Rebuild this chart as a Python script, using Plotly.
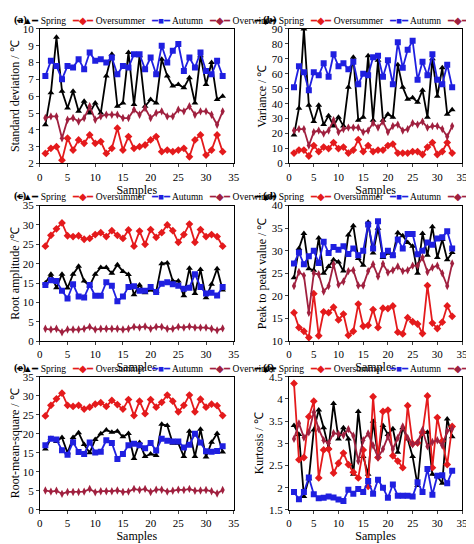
import plotly.graph_objects as go
from plotly.subplots import make_subplots

samples = list(range(1, 34))
series_names = ["Spring", "Oversummer", "Autumn", "Overwinter"]

a_spring = [4.3,6.2,9.5,6.3,5.3,6.3,5.1,5.7,5.0,5.6,5.0,7.2,8.5,5.4,5.6,8.6,5.5,8.4,5.4,5.8,5.6,8.2,7.2,6.6,6.7,6.5,7.1,5.6,8.4,6.7,8.0,5.8,6.0]
a_summer = [2.6,2.9,3.0,2.2,3.5,2.8,3.4,3.2,3.7,3.2,3.3,2.6,2.9,4.1,2.8,3.6,2.9,3.0,3.1,3.4,3.6,2.7,2.8,2.7,2.8,2.9,2.4,3.4,3.7,2.5,2.8,3.7,2.7]
a_autumn = [7.2,8.1,7.8,7.0,7.8,7.7,8.2,7.6,8.6,8.1,8.2,8.0,8.3,7.3,7.8,7.7,8.5,8.5,7.6,8.3,7.3,9.0,8.0,8.7,9.1,7.5,8.3,7.7,8.6,7.5,7.3,8.1,7.2]
a_winter = [4.7,4.8,4.8,3.5,4.6,4.7,4.5,4.7,5.4,4.6,4.8,4.9,4.9,4.9,4.7,4.7,5.2,4.9,5.3,4.7,5.0,5.1,4.8,4.8,5.2,5.1,5.4,4.9,5.1,5.1,4.9,4.3,5.1]

b_spring = [19,37,90,39,28,39,26,32,25,31,25,51,71,29,31,72,29,69,29,33,31,66,51,43,44,41,49,31,70,45,64,33,36]
b_summer = [7,9,9,5,12,8,11,10,14,10,11,7,9,16,8,12,8,9,9,12,13,7,7,7,8,8,6,11,14,6,8,14,7]
b_autumn = [51,65,61,49,61,59,67,58,73,65,67,63,68,53,60,59,71,72,58,69,53,81,64,76,82,56,68,59,73,56,53,66,51]
b_winter = [22,23,23,12,21,22,20,22,29,21,23,24,24,24,21,22,27,24,28,21,25,26,22,23,27,26,28,24,25,25,23,18,25]

c_spring = [15,17.3,13.8,17.3,13.7,17.3,19.3,15.5,14.3,17.3,19,19,17.5,19.7,18,17.2,12,14.5,12.5,13.2,12.8,20,20.2,15.5,15.5,11.7,18.8,12.3,18.5,11.2,14.7,18.7,13.2]
c_summer = [24.5,27.3,29,30.5,27.2,27,27.2,26.3,26.5,27.5,28,27,28.5,27.3,26.5,28.7,24.5,28.4,25,28.8,26.8,28,30,28.5,25.5,27.5,30.2,25.5,28.8,27,27.5,27,24.5]
c_autumn = [14.5,15.7,15.5,13,11,14.7,11.5,11.3,14.5,11.7,11.7,15.2,14.3,10.3,11.5,14,14.2,13,13,14,12.7,14.8,15.2,14.7,14.3,13.5,13.8,17.3,14,12.3,12.5,11.8,14]
c_winter = [3.2,3,3.2,2.3,3,3,3,3.2,3.7,3,3.2,3.2,3.2,3.2,3,3.2,3.7,3.5,3.8,3.2,3.7,3.7,3.2,3.2,3.7,3.5,3.8,3.5,3.5,3.5,3.2,2.8,3.3]

d_spring = [24,30.5,33.8,26,25.7,32.8,25,26.5,28,27.5,25.5,33.5,35.5,28.3,26.8,36.3,29.5,35,28.5,29.5,29,34,33.3,31.8,31,25,33.8,29,35.3,28.5,32.5,28,29.6]
d_summer = [16.3,13,12.2,10.8,20.5,11.2,16.5,16.3,17.5,14.7,16,11.3,12.2,18.2,13.3,13.5,17,13,17.3,17.2,17.8,12,11.6,15.2,14.3,13.8,11.7,22.3,14,12.8,14.2,17.8,15.5]
d_autumn = [27.2,29.6,27,28.8,30,27.3,32,29.5,30.8,30.2,31,29.3,30.5,29,30,35.8,30.5,36.5,29,30,29,32.5,30.5,33.7,33.7,29.2,30,31.8,31.3,32.7,33,34.3,30.5]
d_winter = [22.2,25.3,24.5,16.3,25,24.8,21,22.2,27,22.5,23.2,25.5,25.7,22.3,22.3,25.5,27,24.3,27.1,25.2,25.7,26.5,25.5,25.7,26.7,26.7,28.5,25.3,26.3,26.7,25,22.2,27.2]

e_spring = [16,18.8,18,19,15,19,20.3,17.2,15,18.5,20,21,20.4,20.7,19.2,20.1,13.5,17.7,14,14.7,14.3,22.5,22.2,17.5,17.5,14,20.7,14,21.2,13.9,17.8,20.1,15.2]
e_summer = [24.7,27.5,29.2,30.7,27.5,27.2,27.5,26.5,27,27.8,28.2,27.2,28.8,27.7,26.5,29,24.8,28.6,25.3,29,27,28.3,30.2,28.6,25.8,27.5,30.2,25.8,29.1,27,27.8,27.4,24.8]
e_autumn = [17,18.7,18.5,15.7,14.5,17.8,15.2,14.7,17.7,15.1,15.3,18.3,17.6,13.4,14.7,17,17.4,17,16.2,17.6,15.6,18.7,18.2,18,18,16.4,17.1,20,17.7,15.4,15.3,15.5,16.7]
e_winter = [5.1,4.8,5,4.2,4.7,4.7,4.7,4.8,5.5,4.6,4.9,4.9,4.9,5.1,4.7,4.8,5.5,5.2,5.5,4.7,5.3,5.3,4.8,5,5.3,5.2,5.5,5,5.1,5.2,4.9,4.3,5.2]

f_spring = [3.4,3.2,1.8,2.2,3.3,3.75,3.35,2.9,3.9,3.1,3.35,3.1,2.3,3.72,2.7,2.3,3.5,2.7,3.4,3.2,3.33,2.8,3.35,3.1,2.7,2.05,3.25,3.25,2.3,2.25,2.1,3.55,3.15]
f_summer = [4.35,2.63,2.68,3.6,3.95,2.22,2.85,2.87,2.33,2.55,2.78,2.52,2.35,2.22,2.85,2.03,4.05,2.68,3.72,3.75,2.72,2.6,2.45,3.85,2.99,3.01,3.25,4.07,2.45,3.58,3.05,2.52,3.38]
f_autumn = [1.9,1.74,1.9,2.23,1.85,1.76,1.77,1.8,1.78,1.73,1.7,1.95,1.86,1.97,1.9,2.15,1.86,2.18,2.0,1.77,2.07,1.82,1.82,1.82,1.8,2.12,1.9,2.42,1.84,2.27,2.28,2.1,2.38]
f_winter = [3.1,3.45,3.13,3.25,3.7,3.32,3.07,3.0,3.23,3.21,3.18,3.32,3.17,2.6,3.07,3.22,2.95,2.68,2.87,3.15,2.87,3.12,3.38,3.12,2.98,3.02,3.3,2.93,3.03,3.07,2.95,3.28,3.33]

panels = [
    ("(a)", "Standard deviation / ℃", [2, 10], 1, [a_spring, a_summer, a_autumn, a_winter]),
    ("(b)", "Variance / ℃", [0, 90], 10, [b_spring, b_summer, b_autumn, b_winter]),
    ("(c)", "Root amplitude /℃", [0, 35], 5, [c_spring, c_summer, c_autumn, c_winter]),
    ("(d)", "Peak to peak value / ℃", [10, 40], 5, [d_spring, d_summer, d_autumn, d_winter]),
    ("(e)", "Root-mean-square / ℃", [0, 35], 5, [e_spring, e_summer, e_autumn, e_winter]),
    ("(f)", "Kurtosis / ℃", [1.5, 4.5], 0.5, [f_spring, f_summer, f_autumn, f_winter]),
]

colors = ["black", "#e41a1c", "#1f1fe0", "#a0203f"]
symbols = ["triangle-up", "diamond", "square", "diamond-tall"]
legend_glyphs = ["▲", "◆", "■", "◆"]

xdom = [[0.062, 0.479], [0.598, 0.970]]
ydom = [[0.719, 0.972], [0.385, 0.640], [0.068, 0.318]]

fig = make_subplots(rows=3, cols=2)
FONT = "Liberation Serif"
legend_text = "   ".join(
    f"<span style='color:{colors[k]}'>━{legend_glyphs[k]}━</span> {series_names[k]}" for k in range(4))
for i, (lab, ytitle, yr, dt, data) in enumerate(panels):
    r, c = i // 2, i % 2
    for k, vals in enumerate(data):
        fig.add_trace(go.Scatter(x=samples, y=vals, mode="lines+markers", name=series_names[k],
                                 line=dict(color=colors[k], width=1.8),
                                 marker=dict(symbol=symbols[k], size=6, color=colors[k]),
                                 showlegend=False), row=r+1, col=c+1)
    ax = "" if i == 0 else str(i+1)
    fig.layout["xaxis" + ax].update(domain=xdom[c], range=[0, 35], dtick=5, showline=True, mirror=True,
        linecolor="black", ticks="outside", ticklen=3, showgrid=False, zeroline=False,
        title=dict(text="Samples", standoff=0, font=dict(size=12)))
    fig.layout["yaxis" + ax].update(domain=ydom[r], range=yr, dtick=dt, showline=True, mirror=True,
        linecolor="black", ticks="outside", ticklen=3, showgrid=False, zeroline=False,
        title=dict(text=ytitle, standoff=2, font=dict(size=12)))
    fig.add_annotation(text=legend_text, xref="paper", yref="paper",
                       x=(xdom[c][0] + xdom[c][1]) / 2 + 0.02, y=ydom[r][1] + 0.002,
                       xanchor="center", yanchor="bottom", showarrow=False,
                       font=dict(size=9.5, family=FONT))
    fig.add_annotation(text="<b>" + lab + "</b>", xref="paper", yref="paper",
                       x=xdom[c][0] - 0.06, y=ydom[r][1] + 0.002, xanchor="left", yanchor="bottom",
                       showarrow=False, font=dict(size=11, family=FONT))

fig.update_layout(width=474, height=544, margin=dict(l=0, r=0, t=0, b=0),
                  plot_bgcolor="white", paper_bgcolor="white",
                  font=dict(family=FONT, size=11, color="black"))
fig.write_html("out.html")
